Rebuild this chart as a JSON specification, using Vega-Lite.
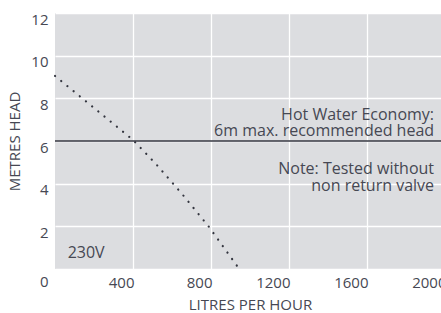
{
  "$schema": "https://vega.github.io/schema/vega-lite/v6.json",
  "width": 390,
  "height": 256,
  "autosize": {"type": "none"},
  "padding": {"left": 55, "top": 13, "right": 0, "bottom": 44},
  "background": "white",
  "config": {
    "view": {"fill": "#dcdde0", "stroke": null},
    "font": "Open Sans",
    "axis": {
      "domain": false,
      "ticks": false,
      "gridColor": "white",
      "gridWidth": 1.3,
      "labelFont": "Open Sans",
      "labelFontSize": 15,
      "labelColor": "#464853",
      "titleFont": "Open Sans",
      "titleFontSize": 15,
      "titleFontWeight": "normal",
      "titleColor": "#464853"
    }
  },
  "layer": [
    {
      "data": {"values": [
        {"flow": 0, "head": 9.05},
        {"flow": 400, "head": 6.05},
        {"flow": 520, "head": 4.9},
        {"flow": 655, "head": 3.48},
        {"flow": 790, "head": 1.97},
        {"flow": 945, "head": 0}
      ]},
      "mark": {"type": "line", "color": "#33353f", "strokeWidth": 2.2, "strokeDash": [0.1, 7.9], "strokeCap": "round"},
      "encoding": {
        "x": {
          "field": "flow", "type": "quantitative",
          "scale": {"domain": [0, 2000], "nice": false},
          "axis": {
            "values": [400, 800, 1200, 1600, 2000],
            "format": "d",
            "title": "LITRES PER HOUR",
            "labelAlign": "right",
            "labelOffset": 1,
            "labelPadding": 6,
            "titlePadding": 7
          }
        },
        "y": {
          "field": "head", "type": "quantitative",
          "scale": {"domain": [0, 12], "nice": false},
          "axis": {
            "values": [0, 2, 4, 6, 8, 10, 12],
            "format": "d",
            "title": "METRES HEAD",
            "labelPadding": 7,
            "labelOffset": {"condition": {"test": "datum.value == 0", "value": 12.5}, "value": 6},
            "titlePadding": 8
          }
        }
      }
    },
    {
      "data": {"values": [{"head": 6}]},
      "mark": {"type": "rule", "color": "#33353f", "strokeWidth": 1.3},
      "encoding": {"y": {"field": "head", "type": "quantitative"}}
    },
    {
      "data": {"values": [
        {"flow": 1944, "head": 6.98, "label": "Hot Water Economy:"},
        {"flow": 1944, "head": 6.25, "label": "6m max. recommended head"},
        {"flow": 1944, "head": 4.45, "label": "Note: Tested without"},
        {"flow": 1944, "head": 3.66, "label": "non return valve"}
      ]},
      "mark": {"type": "text", "align": "right", "baseline": "alphabetic", "fontSize": 16, "color": "#464853", "font": "Open Sans"},
      "encoding": {
        "x": {"field": "flow", "type": "quantitative"},
        "y": {"field": "head", "type": "quantitative"},
        "text": {"field": "label"}
      }
    },
    {
      "data": {"values": [{"flow": 65, "head": 0.52, "label": "230V"}]},
      "mark": {"type": "text", "align": "left", "baseline": "alphabetic", "fontSize": 16, "color": "#464853", "font": "Open Sans"},
      "encoding": {
        "x": {"field": "flow", "type": "quantitative"},
        "y": {"field": "head", "type": "quantitative"},
        "text": {"field": "label"}
      }
    }
  ]
}
